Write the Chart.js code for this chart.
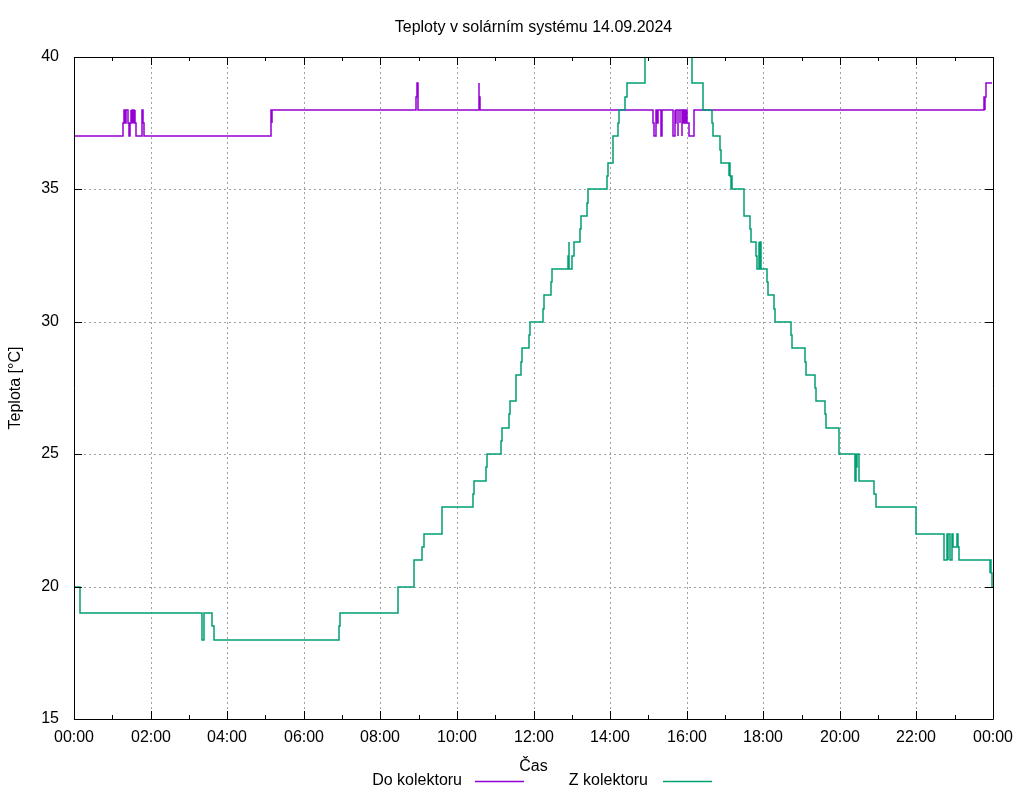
<!DOCTYPE html>
<html>
<head>
<meta charset="utf-8">
<title>Teploty v solárním systému 14.09.2024</title>
<script src="https://cdn.jsdelivr.net/npm/chart.js@4.4.1/dist/chart.umd.min.js"></script>
<style>
  html, body { margin: 0; padding: 0; background: #fff; }
</style>
</head>
<body>
<canvas id="chart" width="1024" height="800"></canvas>
<script>
// minutes since midnight at which the reading changes, and the new value
const doMinutes = [0, 77, 78, 80, 82, 85, 86, 88, 89, 90, 91, 92, 93, 94, 95, 96, 97, 106, 107, 108, 109,
    308, 309, 310, 311, 536, 538, 539, 634, 635, 636,
    908, 909, 912, 913, 915, 920, 922, 939, 941, 942, 944, 946, 947, 949, 950, 952, 953, 955, 956, 958, 959, 961, 963, 971,
    1426, 1427, 1428, 1429, 1439];
const doValues = [37, 37.5, 38, 37.5, 38, 37.5, 37, 37.5, 38, 37.5, 38, 37.5, 38, 37.5, 38, 37.5, 37, 37.5, 38, 37.5, 37,
    37.5, 38, 37.5, 38, 38.5, 39, 38, 39, 38.5, 38,
    37.5, 37, 38, 37.5, 38, 37, 38, 37, 38, 37.5, 38, 37, 38, 37.5, 38, 37, 38, 37.5, 38, 37.5, 38, 37.5, 37, 38,
    38.5, 38, 38.5, 39, 39];

const zMinutes = [0, 9, 200, 201, 203, 217, 219, 415, 417, 507, 532, 546, 548, 576, 625, 626, 645, 647, 669, 670,
    681, 683, 692, 701, 702, 713, 715, 735, 736, 747, 749, 774, 775, 776, 781, 783, 793, 794, 804, 805,
    835, 837, 844, 845, 852, 854, 864, 866, 895, 968, 986, 1000, 1001, 1012, 1014, 1026, 1027, 1028, 1029, 1030,
    1031, 1050, 1059, 1061, 1069, 1070, 1073, 1074, 1075, 1076, 1086, 1088, 1097, 1099, 1124, 1125, 1146, 1147,
    1161, 1163, 1177, 1179, 1199, 1224, 1225, 1226, 1227, 1230, 1254, 1256, 1319, 1320, 1363, 1364, 1368, 1369,
    1370, 1372, 1376, 1377, 1383, 1385, 1386, 1435, 1436, 1437, 1438, 1439];
const zValues = [20, 19, 18.5, 18, 19, 18.5, 18, 18.5, 19, 20, 21, 21.5, 22, 23, 23.5, 24, 24.5, 25, 25.5, 26,
    26.5, 27, 28, 28.5, 29, 29.5, 30, 30.5, 31, 31.5, 32, 32.5, 33, 32, 32.5, 33, 33.5, 34, 34.5, 35,
    35.5, 36, 36.5, 37, 37.5, 38, 38.5, 39, 41, 39, 38, 37.5, 37, 36.5, 36, 35.5, 36, 35.5, 35, 35.5,
    35, 34, 33.5, 33, 32.5, 32, 33, 32, 33, 32, 31.5, 31, 30.5, 30, 29.5, 29, 28.5, 28,
    27.5, 27, 26.5, 26, 25, 24, 25, 24.5, 25, 24, 23.5, 23, 22.5, 22, 21.5, 21, 22, 21,
    22, 21, 22, 21.5, 22, 21.5, 21, 20.5, 21, 20.5, 20, 20];

const titleText = 'Teploty v solárním systému 14.09.2024';
const seriesNames = ['Do kolektoru', 'Z kolektoru'];
const seriesColors = ['#9400d3', '#009e73'];

const toPoints = (mins, vals) => mins.map((m, i) => ({ x: m, y: vals[i] }));
const fmtTime = (m) => String(Math.floor(m / 60) % 24).padStart(2, '0') + ':00';

Chart.defaults.font.family = "'Liberation Sans', Arial, sans-serif";
Chart.defaults.font.size = 16;
Chart.defaults.color = '#000';

// border, inward ticks on all sides, title and gnuplot-like key
const frame = {
    id: 'frame',
    afterDraw(chart) {
        const { ctx, chartArea: a, scales: { x, y } } = chart;
        const al = (p) => Math.round(p - 0.5) + 0.5;
        ctx.save();
        ctx.strokeStyle = '#000';
        ctx.lineWidth = 1;
        ctx.beginPath();
        ctx.rect(al(a.left), al(a.top), al(a.right) - al(a.left), al(a.bottom) - al(a.top));
        for (let m = 0; m <= 1440; m += 60) {
            const px = al(x.getPixelForValue(m));
            const len = m % 120 === 0 ? 8 : 4;
            ctx.moveTo(px, a.bottom); ctx.lineTo(px, a.bottom - len);
            ctx.moveTo(px, a.top); ctx.lineTo(px, a.top + len);
        }
        for (let v = 15; v <= 40; v += 5) {
            const py = al(y.getPixelForValue(v));
            ctx.moveTo(a.left, py); ctx.lineTo(a.left + 8, py);
            ctx.moveTo(a.right, py); ctx.lineTo(a.right - 8, py);
        }
        ctx.stroke();

        ctx.fillStyle = '#000';
        ctx.font = "16px 'Liberation Sans', Arial, sans-serif";
        ctx.textBaseline = 'middle';
        ctx.textAlign = 'center';
        ctx.fillText(titleText, (a.left + a.right) / 2, 28);

        const keyY = 781;
        const keys = [{ textEnd: 462, lineStart: 475 }, { textEnd: 648, lineStart: 663 }];
        keys.forEach((k, i) => {
            ctx.textAlign = 'right';
            ctx.fillStyle = '#000';
            ctx.fillText(seriesNames[i], k.textEnd, keyY);
            ctx.strokeStyle = seriesColors[i];
            ctx.lineWidth = 1.5;
            ctx.beginPath();
            ctx.moveTo(k.lineStart, keyY + 0.5);
            ctx.lineTo(k.lineStart + 49, keyY + 0.5);
            ctx.stroke();
        });
        ctx.restore();
    }
};

new Chart(document.getElementById('chart'), {
    type: 'line',
    data: {
        datasets: [
            {
                label: seriesNames[0],
                data: toPoints(doMinutes, doValues),
                borderColor: seriesColors[0],
                borderWidth: 1.5,
                pointRadius: 0,
                stepped: true,
                order: 1
            },
            {
                label: seriesNames[1],
                data: toPoints(zMinutes, zValues),
                borderColor: seriesColors[1],
                borderWidth: 1.5,
                pointRadius: 0,
                stepped: true,
                order: 0
            }
        ]
    },
    options: {
        responsive: false,
        animation: false,
        devicePixelRatio: 1,
        layout: { padding: { top: 57, right: 31, left: 0, bottom: 0 } },
        plugins: {
            legend: { display: false },
            tooltip: { enabled: false },
            title: { display: false }
        },
        scales: {
            x: {
                type: 'linear',
                min: 0,
                max: 1440,
                alignToPixels: true,
                ticks: {
                    stepSize: 120,
                    padding: 9,
                    maxRotation: 0,
                    autoSkip: false,
                    callback: (v) => fmtTime(v)
                },
                grid: { color: '#a0a0a0', lineWidth: 1, drawTicks: false },
                border: { display: false, dash: [2, 3] },
                title: { display: true, text: 'Čas', padding: { top: 0, bottom: 24 } },
                afterFit: (s) => { s.height = 81; }
            },
            y: {
                min: 15,
                max: 40,
                alignToPixels: true,
                ticks: { stepSize: 5, padding: 15 },
                grid: { color: '#a0a0a0', lineWidth: 1, drawTicks: false },
                border: { display: false, dash: [2, 3] },
                title: { display: true, text: 'Teplota [°C]', padding: { top: 6, bottom: 0 } },
                afterFit: (s) => { s.width = 74; }
            }
        }
    },
    plugins: [frame]
});
</script>
</body>
</html>
